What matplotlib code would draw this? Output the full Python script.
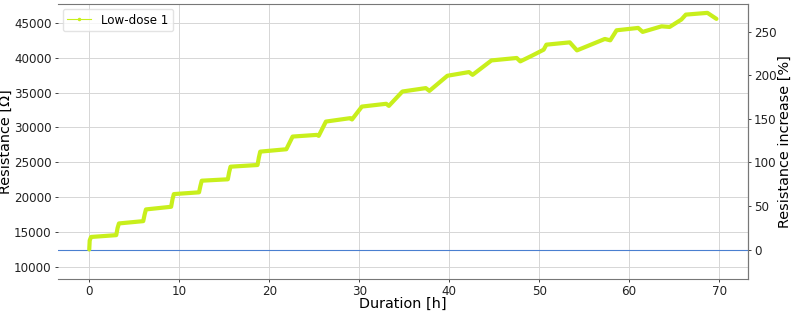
import matplotlib
matplotlib.use("Agg")
import matplotlib.pyplot as plt
from matplotlib.lines import Line2D

BASELINE = 12500  # Ohm, resistance at t = 0

# breakpoints
duration = [0.0, 0.05, 0.2, 3.0, 3.15, 3.3, 6.0, 6.15, 6.3, 9.1, 9.25, 9.4,
            12.2, 12.35, 12.5, 15.4, 15.55, 15.7, 18.7, 18.85, 19.0, 21.9,
            22.6, 25.3, 25.5, 26.3, 29.0, 29.2, 30.3, 33.0, 33.3, 34.8,
            37.4, 37.8, 39.8, 42.2, 42.6, 44.7, 47.5, 47.9, 49.2, 50.5,
            50.8, 53.4, 54.2, 57.3, 57.9, 58.6, 61.0, 61.5, 63.6, 64.5,
            65.8, 66.3, 68.7, 69.5, 69.7]
resistance = [12500, 13800, 14300, 14560, 15600, 16240, 16570, 17500, 18250,
              18630, 19700, 20450, 20700, 21600, 22370, 22570, 23600, 24380,
              24620, 25700, 26540, 26880, 28700, 28940, 28800, 30850, 31340,
              31150, 33000, 33400, 33100, 35160, 35650, 35250, 37420, 37950,
              37550, 39620, 39970, 39480, 40300, 41160, 41880, 42210, 41060,
              42700, 42500, 43940, 44280, 43710, 44510, 44420, 45480, 46190,
              46440, 45750, 45580]

LINE_COLOR = "#c8ef1c"
TICK_SIZE = 8.6
LABEL_SIZE = 10.4

fig, ax = plt.subplots(figsize=(7.93, 3.14), dpi=100)
fig.subplots_adjust(left=0.073, right=0.943, top=0.987, bottom=0.111)

ax.plot(duration, resistance, color=LINE_COLOR, lw=3.0,
        solid_capstyle="round", solid_joinstyle="round", zorder=3)
ax.axhline(BASELINE, color="#4a7fd0", lw=0.8, zorder=2)

ax.set_ylim(8250, 47700)
ax.set_xlabel("Duration [h]", fontsize=LABEL_SIZE, labelpad=-1)
ax.set_ylabel("Resistance [Ω]", fontsize=LABEL_SIZE, labelpad=1)
ax.tick_params(labelsize=TICK_SIZE, colors="#222222", length=2.5, width=0.6, pad=2)
ax.grid(True, color="#d6d6d6", lw=0.7)
ax.set_axisbelow(True)
ax.spines["left"].set_visible(False)
for s in ("top", "bottom", "right"):
    ax.spines[s].set_color("#777777")
    ax.spines[s].set_linewidth(0.8)

# right axis: percentage increase relative to baseline
ax2 = ax.twinx()
lo, hi = ax.get_ylim()
ax2.set_ylim((lo - BASELINE) / BASELINE * 100, (hi - BASELINE) / BASELINE * 100)
ax2.set_yticks([0, 50, 100, 150, 200, 250])
ax2.set_ylabel("Resistance increase [%]", fontsize=LABEL_SIZE, labelpad=1)
ax2.tick_params(labelsize=TICK_SIZE, colors="#222222", length=2.5, width=0.6, pad=2)
for s in ax2.spines.values():
    s.set_visible(False)
ax2.spines["right"].set_visible(True)
ax2.spines["right"].set_color("#777777")
ax2.spines["right"].set_linewidth(0.8)

handle = Line2D([], [], color=LINE_COLOR, lw=0.8, marker=".", ms=3)
ax.legend([handle], ["Low-dose 1"], loc="upper left", fontsize=8.6,
          framealpha=0.8, edgecolor="#dddddd", borderaxespad=0.4)

fig.savefig("out.png", dpi=100)
